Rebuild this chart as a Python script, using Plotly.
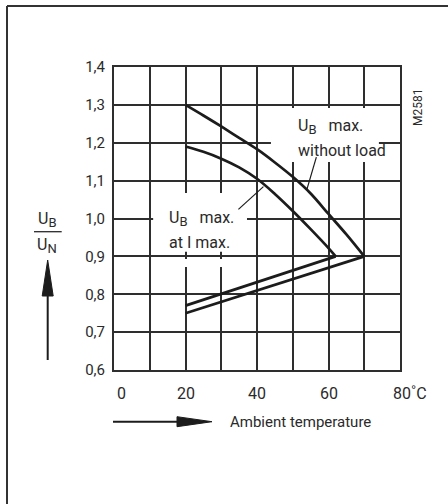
import plotly.graph_objects as go

# ---------------- data ----------------
temp_nl = [20, 25, 30, 35, 40, 45, 50, 55, 60, 65, 70]
ub_nl = [1.300, 1.272, 1.243, 1.213, 1.183, 1.148, 1.110, 1.066, 1.012, 0.958, 0.900]
temp_nl_low = [70, 20]
ub_nl_low = [0.900, 0.750]

temp_im = [20, 25, 30, 35, 40, 45, 50, 55, 60, 62]
ub_im = [1.190, 1.176, 1.158, 1.135, 1.105, 1.065, 1.020, 0.972, 0.922, 0.900]
temp_im_low = [62, 20]
ub_im_low = [0.900, 0.770]

y_ticks = [0.6, 0.7, 0.8, 0.9, 1.0, 1.1, 1.2, 1.3, 1.4]
y_ticklabels = ["0,6", "0,7", "0,8", "0,9", "1,0", "1,1", "1,2", "1,3", "1,4"]
x_ticks = [0, 20, 40, 60, 80]
x_ticklabels = ["0", "20", "40", "60", "80˚C"]

FONT = "Roboto, Liberation Sans, sans-serif"
INK = "#1c1c1c"
GRID = "#2e2e2e"
TXT = "#2a2a2a"

# plot area in pixels
L, R, T, B = 114, 400, 67, 370
W, H = R - L, B - T


def px(x):
    return (x - L) / W


def py(y):
    return (B - y) / H


fig = go.Figure()
for xs, ys, shp in [(temp_nl, ub_nl, "spline"), (temp_nl_low, ub_nl_low, "linear"),
                    (temp_im, ub_im, "spline"), (temp_im_low, ub_im_low, "linear")]:
    fig.add_trace(go.Scatter(x=xs, y=ys, mode="lines",
                             line=dict(color=INK, width=2.7, shape=shp),
                             hoverinfo="skip", showlegend=False))

shapes = []
# white boxes hiding the grid behind the labels
for x0, x1, y0, y1 in [(10.95, 37.2, 0.912, 1.067), (18, 32, 0.872, 0.893),
                       (43.9, 74.1, 1.149, 1.292)]:
    shapes.append(dict(type="rect", xref="x", yref="y", x0=x0, x1=x1, y0=y0, y1=y1,
                       fillcolor="white", line=dict(width=0), layer="between"))
# leader lines
shapes.append(dict(type="line", xref="x", yref="y", x0=56.6, y0=1.162, x1=53.9, y1=1.075,
                   line=dict(color=INK, width=1.2)))
shapes.append(dict(type="line", xref="x", yref="y", x0=34.8, y0=1.024, x1=41.8, y1=1.084,
                   line=dict(color=INK, width=1.2)))
# outer frame (top and left)
shapes.append(dict(type="line", xref="paper", yref="paper", x0=px(7), y0=py(6), x1=px(450), y1=py(6),
                   line=dict(color="#333", width=2)))
shapes.append(dict(type="line", xref="paper", yref="paper", x0=px(7), y0=py(6), x1=px(7), y1=py(506),
                   line=dict(color="#333", width=2)))
# y arrow
shapes.append(dict(type="line", xref="paper", yref="paper", x0=px(47.7), y0=py(360), x1=px(47.7), y1=py(292),
                   line=dict(color=INK, width=2)))
shapes.append(dict(type="path", xref="paper", yref="paper",
                   path=f"M {px(42.2)} {py(296)} L {px(47.7)} {py(260)} L {px(53.2)} {py(296)} Z",
                   fillcolor=INK, line=dict(color=INK, width=1)))
# fraction bar
shapes.append(dict(type="line", xref="paper", yref="paper", x0=px(34), y0=py(231.7), x1=px(61.7), y1=py(231.7),
                   line=dict(color=TXT, width=1.3)))
# x arrow
shapes.append(dict(type="line", xref="paper", yref="paper", x0=px(113), y0=py(421.7), x1=px(180), y1=py(421.7),
                   line=dict(color=INK, width=2)))
shapes.append(dict(type="path", xref="paper", yref="paper",
                   path=f"M {px(177)} {py(416.7)} L {px(212)} {py(421.7)} L {px(177)} {py(426.7)} Z",
                   fillcolor=INK, line=dict(color=INK, width=1)))

SUB = "<sub><span style='font-size:13px'>{}</span></sub>"

ann = []
# x tick labels
for v, t in zip(x_ticks, x_ticklabels):
    a = dict(x=v, y=0, xref="x", yref="paper", text=t, showarrow=False, yanchor="middle",
             yshift=-23, font=dict(family=FONT, size=16, color=TXT))
    if v == 0:
        a.update(xshift=7)
    if t.endswith("C"):
        a.update(xanchor="left", xshift=-9)
    ann.append(a)
# curve labels
ann.append(dict(x=px(296), y=py(126), xref="paper", yref="paper", xanchor="left", yanchor="middle",
                text="U" + SUB.format("B") + "   max.", showarrow=False,
                font=dict(family=FONT, size=16, color=TXT)))
ann.append(dict(x=px(296), y=py(150), xref="paper", yref="paper", xanchor="left", yanchor="middle",
                text="without load", showarrow=False, font=dict(family=FONT, size=16, color=TXT)))
ann.append(dict(x=px(167), y=py(218), xref="paper", yref="paper", xanchor="left", yanchor="middle",
                text="U" + SUB.format("B") + "   max.", showarrow=False,
                font=dict(family=FONT, size=16, color=TXT)))
ann.append(dict(x=px(167), y=py(242), xref="paper", yref="paper", xanchor="left", yanchor="middle",
                text="at I max.", showarrow=False, font=dict(family=FONT, size=16, color=TXT)))
# y axis label
ann.append(dict(x=px(47), y=py(219), xref="paper", yref="paper", xanchor="center", yanchor="middle",
                text="U" + SUB.format("B"), showarrow=False, font=dict(family=FONT, size=16, color=TXT)))
ann.append(dict(x=px(47), y=py(245), xref="paper", yref="paper", xanchor="center", yanchor="middle",
                text="U" + SUB.format("N"), showarrow=False, font=dict(family=FONT, size=16, color=TXT)))
# x axis title
ann.append(dict(x=px(228), y=py(422), xref="paper", yref="paper", xanchor="left", yanchor="middle",
                text="Ambient temperature", showarrow=False, font=dict(family=FONT, size=15, color=TXT)))
# figure code
ann.append(dict(x=px(418), y=py(108), xref="paper", yref="paper", xanchor="center", yanchor="middle",
                text="M2581", textangle=-90, showarrow=False, font=dict(family=FONT, size=12, color=TXT)))

fig.update_layout(
    width=448, height=504,
    margin=dict(l=L, r=448 - R, t=T, b=504 - B, pad=0),
    paper_bgcolor="white", plot_bgcolor="white",
    shapes=shapes, annotations=ann,
    xaxis=dict(range=[0, 80], dtick=10, showgrid=True, gridcolor=GRID, gridwidth=2,
               showline=True, mirror=True, linecolor=GRID, linewidth=2,
               showticklabels=False, ticks="", zeroline=False, fixedrange=True),
    yaxis=dict(range=[0.6, 1.4], tickvals=y_ticks, ticktext=y_ticklabels, showgrid=True,
               gridcolor=GRID, gridwidth=2, showline=True, mirror=True, linecolor=GRID,
               linewidth=2, ticks="", zeroline=False, fixedrange=True, ticklabelstandoff=4,
               tickfont=dict(family=FONT, size=15, color=TXT)),
)
fig.write_html("out.html", config={"staticPlot": True},
               post_script="document.body.style.margin='0';")
